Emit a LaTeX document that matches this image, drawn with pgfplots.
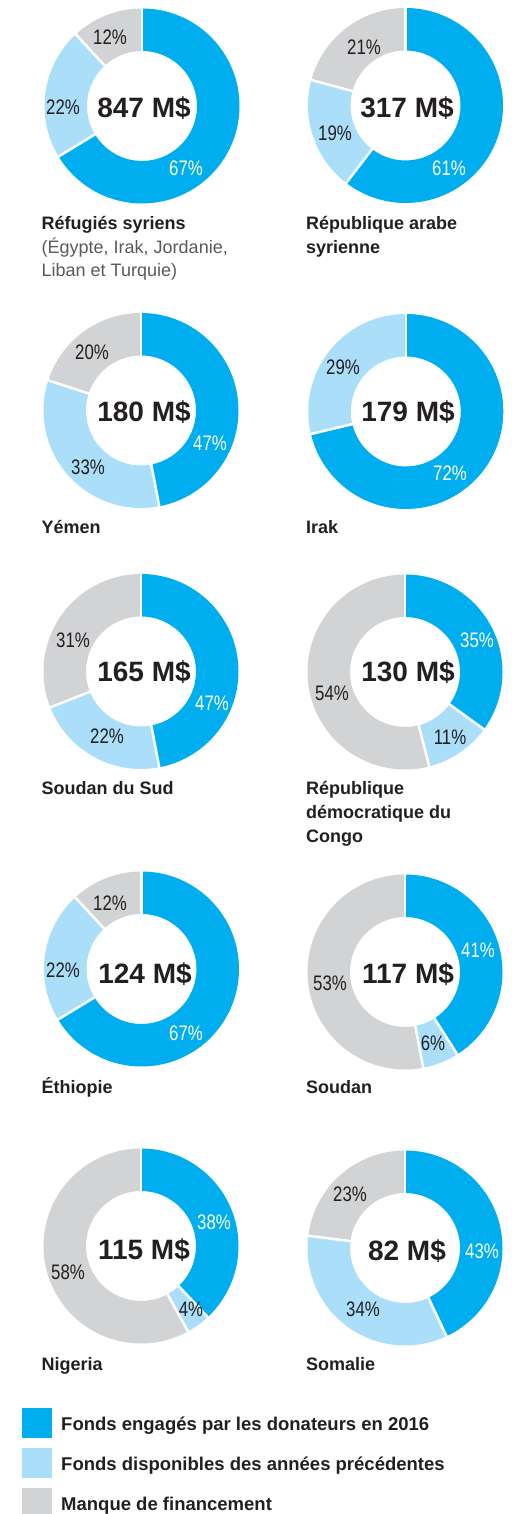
\documentclass[border=0pt]{standalone}
\usepackage{fontspec}
\setmainfont{Liberation Sans}
\newfontfamily\pctfont[FakeStretch=0.8]{Liberation Sans}
\usepackage{pgfplots}
\pgfplotsset{compat=1.18}
\definecolor{cA}{HTML}{00AEEF}
\definecolor{cB}{HTML}{ABDFF9}
\definecolor{cC}{HTML}{D1D3D4}
\definecolor{txt}{HTML}{231F20}
\definecolor{sub}{HTML}{58595B}
\def\Ro{97.5}\def\Ri{55}
% ring segment: cx, cy (image px), start angle, end angle, colour
\newcommand\seg[5]{%
 \fill[#5] ({#1+\Ro*cos(#3)},{1514-#2+\Ro*sin(#3)}) arc[start angle={#3}, end angle={#4}, radius=\Ro pt]
   -- ({#1+\Ri*cos(#4)},{1514-#2+\Ri*sin(#4)}) arc[start angle={#4}, end angle={#3}, radius=\Ri pt] -- cycle;}
\newcommand\sep[3]{%
 \draw[white,line width=2.5pt] ({#1+48*cos(#3)},{1514-#2+48*sin(#3)}) -- ({#1+101*cos(#3)},{1514-#2+101*sin(#3)});}
% donut: cx, cy, engaged, previous years, gap
\newcommand\donut[5]{%
 \seg{#1}{#2}{90}{(90-360/(#3+#4+#5)*(#3))}{cA}
 \seg{#1}{#2}{(90-360/(#3+#4+#5)*(#3))}{(90-360/(#3+#4+#5)*(#3+#4))}{cB}
 \seg{#1}{#2}{(90-360/(#3+#4+#5)*(#3+#4))}{-270}{cC}
 \sep{#1}{#2}{90}
 \sep{#1}{#2}{(90-360/(#3+#4+#5)*(#3))}
 \sep{#1}{#2}{(90-360/(#3+#4+#5)*(#3+#4))}}
\newcommand\pct[4]{\node[font=\pctfont\fontsize{21}{21}\selectfont, text=#4, inner sep=0pt, anchor=center] at (#1,{1514-#2}) {#3\%};}
\newcommand\amt[3]{\node[font=\bfseries\fontsize{28}{28}\selectfont, text=txt, inner sep=0pt, anchor=center] at (#1,{1514-#2}) {#3};}
\newcommand\ttl[3]{\node[font=\bfseries\fontsize{18}{18}\selectfont, text=txt, inner sep=0pt, anchor=base west] at (#1,{1514-#2}) {#3};}
\newcommand\sttl[3]{\node[font=\fontsize{18}{18}\selectfont, text=sub, inner sep=0pt, anchor=base west] at (#1,{1514-#2}) {#3};}
\begin{document}
\begin{tikzpicture}
\begin{axis}[x=1pt, y=1pt, xmin=0, xmax=515, ymin=0, ymax=1514,
  hide axis, clip=false, scale only axis]
\addplot[draw=none] coordinates {(0,0) (515,1514)};
\donut{142}{106}{67}{22}{12}
\donut{405.5}{105.5}{61}{19}{21}
\donut{141}{410.5}{47}{33}{20}
\donut{405.8}{411.5}{72}{29}{0}
\donut{141}{671.5}{47}{22}{31}
\donut{405}{672}{35}{11}{54}
\donut{141.5}{969}{67}{22}{12}
\donut{405}{972}{41}{6}{53}
\donut{141}{1246}{38}{4}{58}
\donut{405}{1248}{43}{34}{23}
% percentages
\pct{110}{37}{12}{txt}\pct{63}{107}{22}{txt}\pct{186}{168}{67}{white}
\pct{364}{47}{21}{txt}\pct{335}{133}{19}{txt}\pct{449}{168}{61}{white}
\pct{92}{352}{20}{txt}\pct{88}{467}{33}{txt}\pct{210}{443}{47}{white}
\pct{343}{367}{29}{txt}\pct{450}{473}{72}{white}
\pct{73}{640}{31}{txt}\pct{107}{736}{22}{txt}\pct{212}{703}{47}{white}
\pct{477}{640}{35}{white}\pct{332}{693}{54}{txt}\pct{450}{737}{11}{txt}
\pct{110}{903}{12}{txt}\pct{63}{970}{22}{txt}\pct{186}{1033}{67}{white}
\pct{478}{950}{41}{white}\pct{330}{983}{53}{txt}\pct{433}{1043}{6}{txt}
\pct{214}{1222}{38}{white}\pct{68}{1272}{58}{txt}\pct{191}{1309}{4}{txt}
\pct{350}{1194}{23}{txt}\pct{482}{1251}{43}{white}\pct{363}{1309}{34}{txt}
% amounts
\amt{144}{108}{847 M\$}\amt{407}{108}{317 M\$}
\amt{144}{412}{180 M\$}\amt{408}{412}{179 M\$}
\amt{144}{672}{165 M\$}\amt{408}{672}{130 M\$}
\amt{145}{974}{124 M\$}\amt{408}{974}{117 M\$}
\amt{144}{1250}{115 M\$}\amt{407}{1251}{82 M\$}
% titles
\ttl{41.5}{230}{Réfugiés syriens}
\sttl{41.5}{253.5}{(Égypte, Irak, Jordanie,}
\sttl{41.5}{277}{Liban et Turquie)}
\ttl{306}{230}{République arabe}
\ttl{306}{253.5}{syrienne}
\ttl{41.5}{534}{Yémen}\ttl{306}{534}{Irak}
\ttl{41.5}{795}{Soudan du Sud}
\ttl{306}{795}{République}\ttl{306}{819}{démocratique du}\ttl{306}{843}{Congo}
\ttl{41.5}{1094}{Éthiopie}\ttl{306}{1094}{Soudan}
\ttl{41.5}{1370.5}{Nigeria}\ttl{306}{1370.5}{Somalie}
% legend
\fill[cA] (22,{1514-1408}) rectangle (52,{1514-1438});
\fill[cB] (22,{1514-1448}) rectangle (52,{1514-1478});
\fill[cC] (22,{1514-1488}) rectangle (52,0);
\node[font=\bfseries\fontsize{18.5}{18.5}\selectfont, text=txt, inner sep=0pt, anchor=base west] at (61,{1514-1431}) {Fonds engagés par les donateurs en 2016};
\node[font=\bfseries\fontsize{18.5}{18.5}\selectfont, text=txt, inner sep=0pt, anchor=base west] at (61,{1514-1471}) {Fonds disponibles des années précédentes};
\node[font=\bfseries\fontsize{18.5}{18.5}\selectfont, text=txt, inner sep=0pt, anchor=base west] at (61,{1514-1510}) {Manque de financement};
\end{axis}
\end{tikzpicture}
\end{document}
